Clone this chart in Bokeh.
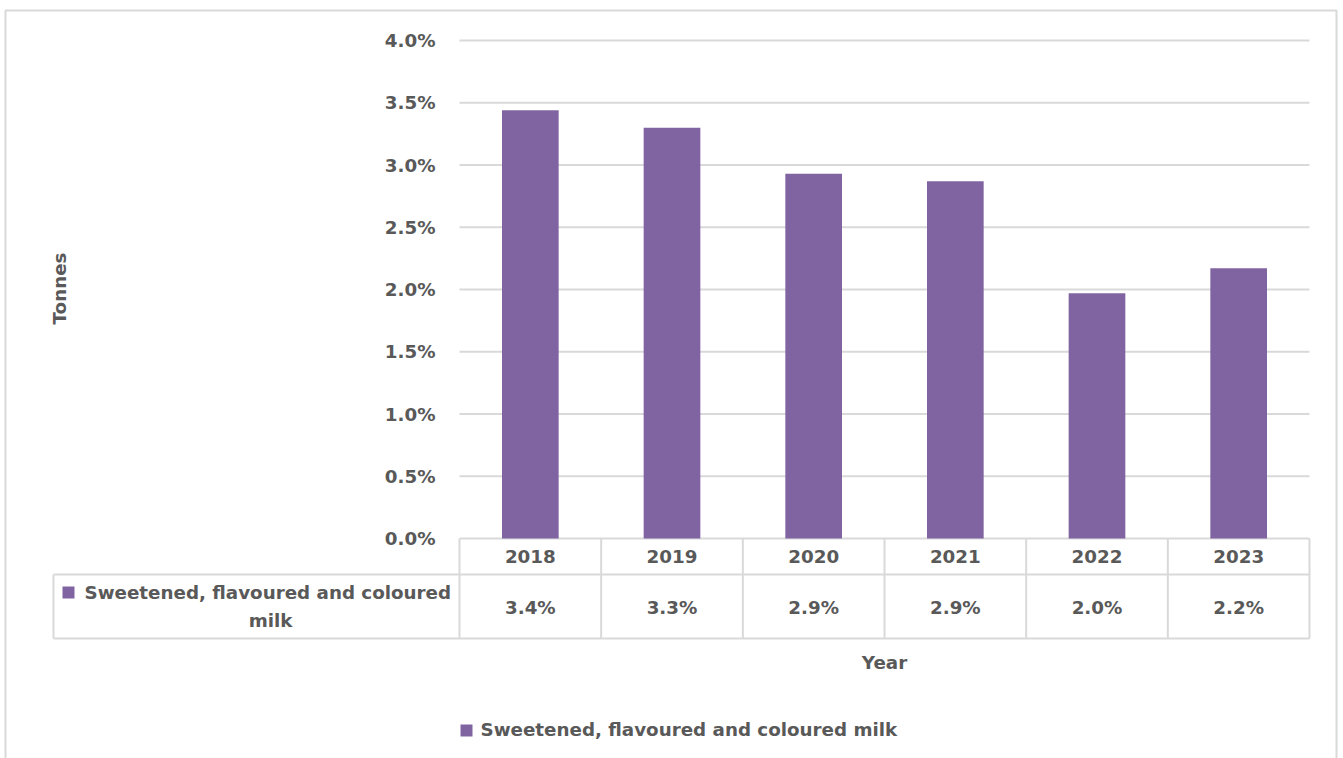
import math
from bokeh.plotting import figure
from bokeh.models import Range1d
from bokeh.core.properties import value
from bokeh.embed import file_html
from bokeh.resources import INLINE

# Share of sweetened, flavoured and coloured milk by year (%)
years = ["2018", "2019", "2020", "2021", "2022", "2023"]
share = [3.44, 3.30, 2.93, 2.87, 1.97, 2.17]
series_name = "Sweetened, flavoured and coloured milk"
y_ticks = [0.0, 0.5, 1.0, 1.5, 2.0, 2.5, 3.0, 3.5, 4.0]
y_title = "Tonnes"
x_title = "Year"

FONT = value("DejaVu Sans")
GREY = "#595959"
RULE = "#d9d9d9"
PURPLE = "#8064a2"
FS = value("18.3px")

W, H = 1343, 758
# plot area in page pixels
PLOT_L, PLOT_R, PLOT_T, PLOT_B = 459, 1309, 40, 538
Y_MAX = 4.0
n = len(years)
unit_x = (PLOT_R - PLOT_L) / n
unit_y = (PLOT_B - PLOT_T) / Y_MAX

# The frame fills the whole page; the data ranges are set so that the
# category slots 0..n and values 0..4 % land on the plot area.
p = figure(width=W, height=H,
           x_range=Range1d(-PLOT_L / unit_x, n + (W - PLOT_R) / unit_x),
           y_range=Range1d(-(H - PLOT_B) / unit_y, Y_MAX + PLOT_T / unit_y),
           x_axis_location=None, y_axis_location=None,
           output_backend="svg", toolbar_location=None, min_border=0)
p.extra_x_ranges = {"px": Range1d(0, W)}
p.extra_y_ranges = {"px": Range1d(H, 0)}
p.grid.visible = False
p.outline_line_color = None
p.background_fill_color = "white"
p.border_fill_color = "white"

txt = dict(text_font=FONT, text_font_size=FS, text_font_style="bold",
           text_color=GREY)
px = dict(x_range_name="px", y_range_name="px")

# outer chart border
p.quad(left=5, right=1336, top=10, bottom=775, fill_alpha=0,
       line_color=RULE, line_width=2, **px)

# horizontal gridlines
p.segment(x0=[0] * len(y_ticks), x1=[n] * len(y_ticks), y0=y_ticks, y1=y_ticks,
          line_color=RULE, line_width=2)

# y tick labels
p.text(x=[PLOT_L - 24] * len(y_ticks), y=y_ticks,
       text=[f"{t:.1f}%" for t in y_ticks], text_align="right",
       text_baseline="middle", x_range_name="px", **txt)

# bars
centers = [i + 0.5 for i in range(n)]
p.vbar(x=centers, top=share, width=0.4, fill_color=PURPLE, line_color=None)

# data table
ROW_SPLIT, TABLE_BOTTOM = 574, 638
p.segment(x0=[53, 53], x1=[PLOT_R, PLOT_R], y0=[ROW_SPLIT, TABLE_BOTTOM],
          y1=[ROW_SPLIT, TABLE_BOTTOM], line_color=RULE, line_width=2, **px)
p.segment(x0=[53], x1=[53], y0=[ROW_SPLIT], y1=[TABLE_BOTTOM],
          line_color=RULE, line_width=2, **px)
p.segment(x0=list(range(n + 1)), x1=list(range(n + 1)),
          y0=[PLOT_B] * (n + 1), y1=[TABLE_BOTTOM] * (n + 1),
          line_color=RULE, line_width=2, y_range_name="px")

# year row and value row
p.text(x=centers, y=[556] * n, text=years, text_align="center",
       text_baseline="middle", y_range_name="px", **txt)
p.text(x=centers, y=[607] * n, text=[f"{v:.1f}%" for v in share],
       text_align="center", text_baseline="middle", y_range_name="px", **txt)

# series key in the table's first column
p.quad(left=62, right=74, top=586, bottom=598, fill_color=PURPLE,
       line_color=None, **px)
p.text(x=[84], y=[592], text=["Sweetened, flavoured and coloured"],
       text_align="left", text_baseline="middle", **px, **txt)
p.text(x=[270], y=[620], text=["milk"], text_align="center",
       text_baseline="middle", **px, **txt)

# axis titles
p.text(x=[59], y=[288], text=[y_title], angle=math.pi / 2, text_align="center",
       text_baseline="middle", **px, **txt)
p.text(x=[n / 2], y=[662], text=[x_title], text_align="center",
       text_baseline="middle", y_range_name="px", **txt)

# legend below the chart
p.quad(left=460, right=472, top=724, bottom=736, fill_color=PURPLE,
       line_color=None, **px)
p.text(x=[480], y=[729], text=[series_name], text_align="left",
       text_baseline="middle", **px, **txt)

open("out.html", "w").write(file_html(p, INLINE))
